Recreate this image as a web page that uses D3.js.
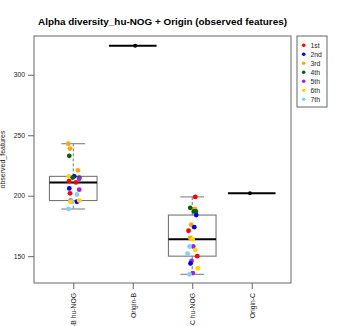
<!DOCTYPE html>
<html>
<head>
<meta charset="utf-8">
<script src="https://cdn.jsdelivr.net/npm/d3@7"></script>
<style>
  body { margin: 0; background: #fff; }
  svg { font-family: "Liberation Sans", Arial, sans-serif; }
</style>
</head>
<body>
<div id="chart"></div>
<script>
// categories on the x axis
var groups = ["-B hu-NOG", "Origin-B", "-C hu-NOG", "Origin-C"];
var samples = ["1st", "2nd", "3rd", "4th", "5th", "6th", "7th"];
var sampleColors = ["#FF0000", "#0000FF", "#FFA500", "#006400", "#A020F0", "#FFD700", "#87CEFA"];
var yTicks = [150, 200, 250, 300];

// B hu-NOG: value, sample index, jitter (category units)
var bHuValues = [243, 239, 233, 221, 216, 216, 215, 215, 214, 212, 211, 206, 205, 202, 201, 196, 195, 195, 195, 196, 189];
var bHuSample = [2, 2, 3, 2, 5, 1, 3, 3, 4, 0, 0, 1, 4, 0, 6, 4, 6, 5, 1, 5, 6];
var bHuJitter = [-0.084, -0.055, -0.067, 0.079, -0.072, 0.017, -0.01, 0.1, 0.1, -0.072, 0.045, -0.067, 0.1, -0.055, 0.062, -0.044, -0.022, -0.05, 0.062, 0.1, -0.077];

// C hu-NOG
var cHuValues = [199, 190, 189, 187, 187, 184, 176, 174, 171, 165, 164, 158, 158, 155, 152, 150, 146, 144, 140, 136, 135];
var cHuSample = [0, 3, 2, 3, 3, 1, 2, 1, 0, 2, 5, 4, 6, 5, 6, 0, 4, 1, 5, 4, 6];
var cHuJitter = [0.05, -0.034, 0.044, 0.027, 0.06, 0.067, -0.017, 0.034, -0.062, -0.034, 0.005, 0.017, -0.045, 0.05, -0.079, 0.084, -0.012, -0.029, 0.094, 0.01, -0.045];

// origin samples (single value each)
var originBValues = [324];
var originBJitter = [0.04];
var originCValues = [202];
var originCJitter = [-0.03];

var width = 337, height = 326;
var plot = { left: 34, right: 291, top: 36, bottom: 283 };

var svg = d3.select("#chart").append("svg")
    .attr("width", width)
    .attr("height", height);

var x = d3.scaleLinear().domain([0.34, 4.66]).range([plot.left, plot.right]);
var y = d3.scaleLinear().domain([127.8, 332.1]).range([plot.bottom, plot.top]);

var boxHalf = 0.4;

// R style five number summary (Tukey hinges)
function fivenum(vals) {
    var s = vals.slice().sort(d3.ascending);
    var n = s.length;
    var n4 = Math.floor((n + 3) / 2) / 2;
    var idx = [1, n4, (n + 1) / 2, n + 1 - n4, n];
    return idx.map(function (d) {
        return 0.5 * (s[Math.floor(d) - 1] + s[Math.ceil(d) - 1]);
    });
}

function boxStats(vals) {
    var f = fivenum(vals);
    var iqr = f[3] - f[1];
    var lo = d3.min(vals.filter(function (v) { return v >= f[1] - 1.5 * iqr; }));
    var hi = d3.max(vals.filter(function (v) { return v <= f[3] + 1.5 * iqr; }));
    return { lo: lo, q1: f[1], med: f[2], q3: f[3], hi: hi };
}

var boxes = [
    { pos: 1, vals: bHuValues },
    { pos: 2, vals: originBValues },
    { pos: 3, vals: cHuValues },
    { pos: 4, vals: originCValues }
];

var g = svg.append("g");

boxes.forEach(function (b) {
    var st = boxStats(b.vals);
    var x0 = x(b.pos - boxHalf), x1 = x(b.pos + boxHalf);
    var xc = x(b.pos);
    var capL = x(b.pos - boxHalf / 2), capR = x(b.pos + boxHalf / 2);
    if (st.q3 > st.q1) {
        // whiskers
        g.append("line").attr("x1", xc).attr("x2", xc)
            .attr("y1", y(st.q3)).attr("y2", y(st.hi))
            .attr("stroke", "#777").attr("stroke-width", 1).attr("stroke-dasharray", "3,2");
        g.append("line").attr("x1", xc).attr("x2", xc)
            .attr("y1", y(st.q1)).attr("y2", y(st.lo))
            .attr("stroke", "#777").attr("stroke-width", 1).attr("stroke-dasharray", "3,2");
        g.append("line").attr("x1", capL).attr("x2", capR)
            .attr("y1", y(st.hi)).attr("y2", y(st.hi))
            .attr("stroke", "#777").attr("stroke-width", 1);
        g.append("line").attr("x1", capL).attr("x2", capR)
            .attr("y1", y(st.lo)).attr("y2", y(st.lo))
            .attr("stroke", "#777").attr("stroke-width", 1);
        g.append("rect")
            .attr("x", x0).attr("y", y(st.q3))
            .attr("width", x1 - x0).attr("height", y(st.q1) - y(st.q3))
            .attr("fill", "none").attr("stroke", "#777").attr("stroke-width", 1.1);
    }
    g.append("line").attr("x1", x0).attr("x2", x1)
        .attr("y1", y(st.med)).attr("y2", y(st.med))
        .attr("stroke", "#000").attr("stroke-width", 2);
});

// points
var pts = [];
bHuValues.forEach(function (v, i) { pts.push({ pos: 1 + bHuJitter[i], v: v, c: sampleColors[bHuSample[i]] }); });
cHuValues.forEach(function (v, i) { pts.push({ pos: 3 + cHuJitter[i], v: v, c: sampleColors[cHuSample[i]] }); });
originBValues.forEach(function (v, i) { pts.push({ pos: 2 + originBJitter[i], v: v, c: "#000", r: 2 }); });
originCValues.forEach(function (v, i) { pts.push({ pos: 4 + originCJitter[i], v: v, c: "#000", r: 2 }); });

g.selectAll("circle.pt").data(pts).enter().append("circle")
    .attr("class", "pt")
    .attr("cx", function (d) { return x(d.pos); })
    .attr("cy", function (d) { return y(d.v); })
    .attr("r", function (d) { return d.r || 2.4; })
    .attr("fill", function (d) { return d.c; });

// frame
svg.append("rect")
    .attr("x", plot.left).attr("y", plot.top)
    .attr("width", plot.right - plot.left).attr("height", plot.bottom - plot.top)
    .attr("fill", "none").attr("stroke", "#666").attr("stroke-width", 1);

// y axis
var yAxis = svg.append("g")
    .attr("transform", "translate(" + plot.left + ",0)")
    .call(d3.axisLeft(y).tickValues(yTicks).tickSize(6).tickPadding(3));
yAxis.select(".domain").remove();
yAxis.selectAll("line").attr("stroke", "#666");
yAxis.selectAll("text").attr("font-size", "6.8px").attr("fill", "#222")
    .attr("font-family", "Liberation Sans, Arial, sans-serif");

// x axis
var xAxis = svg.append("g")
    .attr("transform", "translate(0," + plot.bottom + ")")
    .call(d3.axisBottom(x).tickValues([1, 2, 3, 4]).tickSize(6)
        .tickFormat(function (d) { return groups[d - 1]; }));
xAxis.select(".domain").remove();
xAxis.selectAll("line").attr("stroke", "#666");
xAxis.selectAll("text")
    .attr("font-size", "6.8px").attr("fill", "#222")
    .attr("font-family", "Liberation Sans, Arial, sans-serif")
    .attr("text-anchor", "end")
    .attr("dy", "0.35em")
    .attr("transform", "translate(0,10) rotate(-90)")
    .attr("x", 0).attr("y", 0);

// y label
svg.append("text")
    .attr("transform", "translate(4.5," + ((plot.top + plot.bottom) / 2) + ") rotate(-90)")
    .attr("text-anchor", "middle")
    .attr("font-size", "7px").attr("fill", "#222")
    .text("observed_features");

// title
svg.append("text")
    .attr("x", (plot.left + plot.right) / 2)
    .attr("y", 25)
    .attr("text-anchor", "middle")
    .attr("font-size", "9.9px").attr("font-weight", "bold")
    .text("Alpha diversity_hu-NOG + Origin (observed features)");

// legend
var legend = svg.append("g");
legend.append("rect")
    .attr("x", 297).attr("y", 36).attr("width", 30).attr("height", 71)
    .attr("fill", "#fff").attr("stroke", "#666").attr("stroke-width", 1);
var items = legend.selectAll("g.item").data(samples).enter().append("g")
    .attr("class", "item")
    .attr("transform", function (d, i) { return "translate(0," + (45.3 + i * 9) + ")"; });
items.append("circle").attr("cx", 303.7).attr("cy", 0).attr("r", 1.8)
    .attr("fill", function (d, i) { return sampleColors[i]; });
items.append("text").attr("x", 310.5).attr("y", 0).attr("dy", "0.35em")
    .attr("font-size", "6.8px").attr("fill", "#222")
    .text(function (d) { return d; });
</script>
</body>
</html>
